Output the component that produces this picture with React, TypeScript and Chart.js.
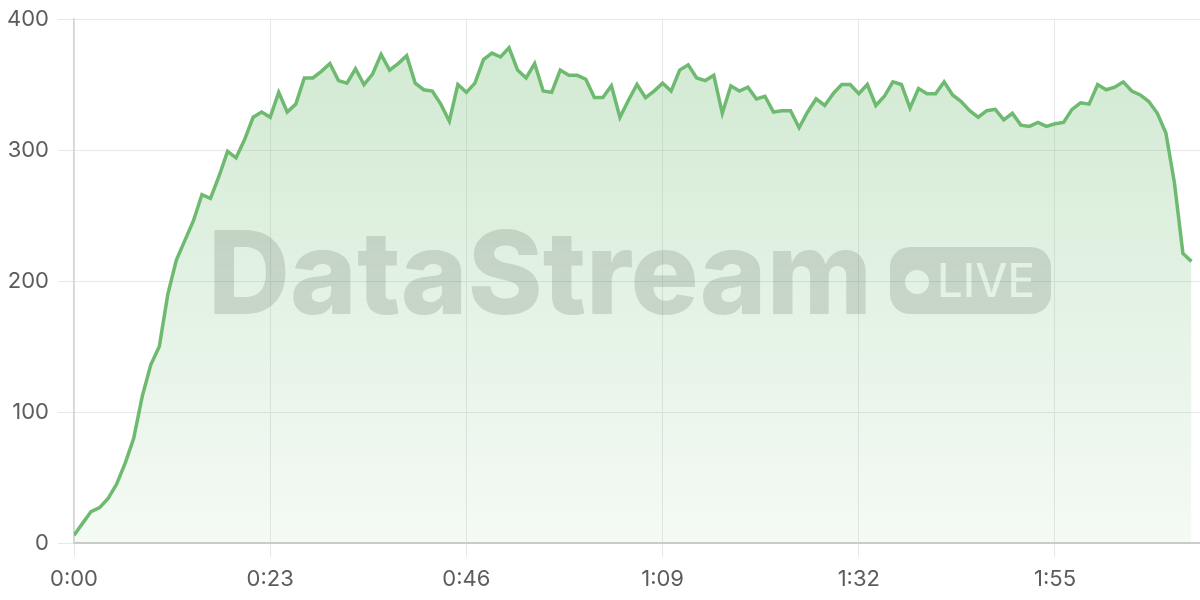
import React, { useEffect, useRef } from 'react';
import { Chart, registerables } from 'chart.js';

Chart.register(...registerables);

// Concurrent sessions per second of elapsed time
const throughput: number[] = [
  6, 15, 24, 27, 34, 45, 61, 80, 112, 136,
  150, 190, 216, 231, 246, 266, 263, 280, 299, 294,
  308, 325, 329, 325, 344, 329, 335, 355, 355, 360,
  366, 353, 351, 362, 350, 358, 373, 361, 366, 372,
  351, 346, 345, 335, 322, 350, 344, 351, 369, 374,
  371, 378, 361, 355, 366, 345, 344, 361, 357, 357,
  354, 340, 340, 349, 325, 338, 350, 340, 345, 351,
  345, 361, 365, 355, 353, 357, 328, 349, 345, 348,
  339, 341, 329, 330, 330, 317, 329, 339, 334, 343,
  350, 350, 343, 350, 334, 341, 352, 350, 332, 347,
  343, 343, 352, 342, 337, 330, 325, 330, 331, 323,
  328, 319, 318, 321, 318, 320, 321, 331, 336, 335,
  350, 346, 348, 352, 345, 342, 337, 328, 313, 275,
  221, 215,
];

// Elapsed seconds, one category per sample
const elapsedSeconds: number[] = throughput.map((_, i) => i);

const xTickSeconds: number[] = [0, 23, 46, 69, 92, 115];
const xTickLabels: string[] = ['0:00', '0:23', '0:46', '1:09', '1:32', '1:55'];
const yTickValues: number[] = [0, 100, 200, 300, 400];
const yTickLabels: string[] = ['0', '100', '200', '300', '400'];

const LINE_COLOR = '#6dba70';
const FONT_FAMILY = 'Inter, "Noto Sans", sans-serif';

const watermarkPlugin = {
  id: 'watermark',
  afterDatasetsDraw(chart: any) {
    const { ctx, chartArea } = chart;
    if (!chartArea) return;
    ctx.save();
    const baseline = chartArea.top + 295;
    // Brand name
    ctx.font = `800 115px ${FONT_FAMILY}`;
    ctx.textBaseline = 'alphabetic';
    ctx.textAlign = 'left';
    ctx.fillStyle = 'rgba(95,110,95,0.21)';
    ctx.fillText('DataStream', chartArea.left + 134, baseline, 664);

    // LIVE badge with knocked-out text
    const bx = chartArea.left + 816;
    const by = chartArea.top + 228;
    const bw = 161;
    const bh = 67;
    const off = document.createElement('canvas');
    off.width = bw;
    off.height = bh;
    const o = off.getContext('2d');
    if (o) {
      o.fillStyle = 'rgba(95,110,95,0.21)';
      o.beginPath();
      (o as any).roundRect(0, 0, bw, bh, 20);
      o.fill();
      o.globalCompositeOperation = 'destination-out';
      o.fillStyle = '#000';
      o.beginPath();
      o.arc(27, 35, 12, 0, Math.PI * 2);
      o.fill();
      o.font = `500 47px ${FONT_FAMILY}`;
      o.textBaseline = 'alphabetic';
      o.fillText('LIVE', 47, 50, 98);
    }
    ctx.drawImage(off, bx, by);
    ctx.restore();
  },
};

export default function App() {
  const canvasRef = useRef<HTMLCanvasElement | null>(null);

  useEffect(() => {
    const canvas = canvasRef.current;
    if (!canvas) return;
    const chart = new Chart(canvas, {
      type: 'line',
      data: {
        labels: elapsedSeconds,
        datasets: [
          {
            data: throughput,
            borderColor: LINE_COLOR,
            borderWidth: 3.5,
            pointRadius: 0,
            pointHoverRadius: 0,
            tension: 0,
            fill: 'origin',
            backgroundColor: (context: any) => {
              const { chart: c } = context;
              const area = c.chartArea;
              if (!area) return 'rgba(109,186,112,0.2)';
              const g = c.ctx.createLinearGradient(0, area.top, 0, area.bottom);
              g.addColorStop(0, 'rgba(109,186,112,0.32)');
              g.addColorStop(1, 'rgba(109,186,112,0.07)');
              return g;
            },
          },
        ],
      },
      options: {
        animation: false,
        responsive: false,
        maintainAspectRatio: false,
        layout: { padding: { top: 19, right: 0, bottom: 0, left: 0 } },
        plugins: {
          legend: { display: false },
          tooltip: { enabled: false },
        },
        scales: {
          x: {
            type: 'linear',
            min: 0,
            max: 132,
            afterBuildTicks: (scale: any) => {
              scale.ticks = xTickSeconds.map((v) => ({ value: v }));
            },
            afterFit: (scale: any) => {
              scale.height = 57;
              scale.paddingLeft = 0;
              scale.paddingRight = 0;
            },
            ticks: {
              autoSkip: false,
              maxRotation: 0,
              padding: 9,
              color: '#5c5c5c',
              font: { family: FONT_FAMILY, size: 22 },
              callback: (_v: any, i: number) => xTickLabels[i],
            },
            grid: {
              color: '#e8e8e8',
              lineWidth: 1,
              tickLength: 14,
            },
            border: { color: '#cccccc', width: 2 },
          },
          y: {
            min: 0,
            max: 400,
            afterBuildTicks: (scale: any) => {
              scale.ticks = yTickValues.map((v) => ({ value: v }));
            },
            afterFit: (scale: any) => {
              scale.width = 74;
              scale.paddingTop = 0;
              scale.paddingBottom = 0;
            },
            ticks: {
              padding: 9,
              color: '#5c5c5c',
              font: { family: FONT_FAMILY, size: 22 },
              callback: (_v: any, i: number) => yTickLabels[i],
            },
            grid: {
              color: '#e8e8e8',
              lineWidth: 1,
              tickLength: 16,
            },
            border: { color: '#d4d4d4', width: 1.5 },
          },
        },
      },
      plugins: [watermarkPlugin],
    } as any);
    return () => chart.destroy();
  }, []);

  return (
    <div style={{ position: 'absolute', left: 0, top: 0, width: 1200, height: 600, background: '#ffffff' }}>
      <canvas ref={canvasRef} width={1200} height={600} style={{ width: 1200, height: 600, display: 'block' }} />
    </div>
  );
}
